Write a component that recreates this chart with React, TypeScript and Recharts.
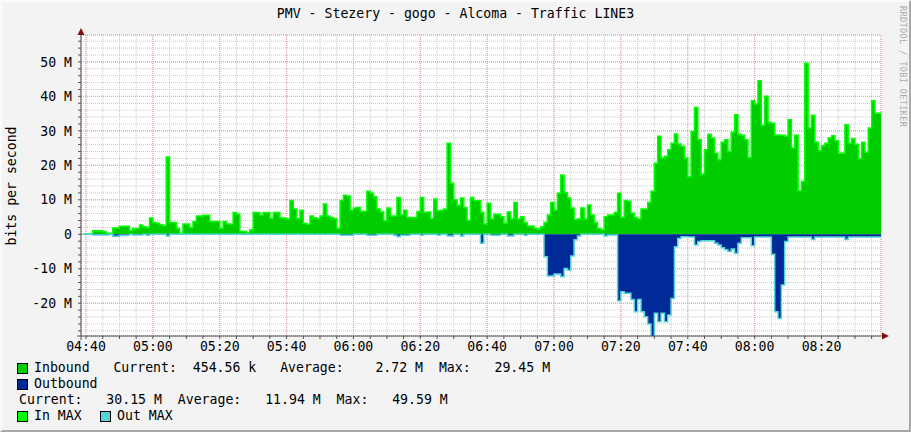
import React from 'react';
import { ComposedChart, Area, XAxis, YAxis, CartesianGrid } from 'recharts';

// minute offsets from 04:40, one sample per minute starting at 04:39
const START_MIN = -1;

// traffic in Mbit/s
const inbound = [
  0.1, 0.1, 0.1, 1.0, 1.0, 1.0, 0.7, 0.3, 0.3, 1.8,
  1.8, 2.3, 2.3, 2.3, 1.1, 1.7, 1.7, 2.7, 2.2, 2.0,
  4.7, 3.4, 3.2, 2.8, 2.5, 22.4, 3.4, 3.4, 1.7, 0.3,
  3.0, 3.0, 2.0, 3.7, 5.3, 5.3, 5.5, 5.5, 3.7, 3.7,
  3.7, 1.7, 3.7, 3.0, 3.0, 6.3, 5.8, 0.8, 0.8, 0.5,
  1.3, 6.3, 6.3, 5.6, 6.3, 6.3, 4.6, 6.3, 6.3, 4.7,
  4.7, 4.4, 9.8, 7.3, 4.6, 7.0, 3.2, 2.9, 5.3, 4.8,
  4.5, 5.3, 8.8, 5.3, 4.9, 4.6, 1.7, 9.8, 11.3, 11.1,
  7.0, 7.6, 7.8, 6.6, 6.7, 12.5, 11.9, 10.9, 7.3, 6.5,
  3.9, 7.6, 5.3, 5.3, 10.7, 5.7, 7.0, 4.9, 4.9, 4.9,
  6.6, 10.7, 6.3, 6.5, 4.6, 10.2, 6.8, 7.0, 7.3, 26.4,
  14.8, 10.0, 8.4, 10.5, 7.7, 4.0, 10.7, 9.7, 9.7, 6.3,
  3.0, 9.0, 4.4, 5.8, 5.8, 5.1, 3.2, 6.5, 4.4, 9.2,
  4.4, 5.1, 3.4, 2.4, 2.4, 1.7, 1.5, 2.2, 3.4, 5.6,
  9.2, 7.0, 11.9, 17.2, 12.1, 10.5, 7.6, 4.2, 4.4, 7.6,
  4.4, 8.5, 5.6, 3.4, 1.7, 1.3, 5.1, 5.6, 5.6, 6.3,
  11.9, 4.9, 9.8, 9.5, 6.1, 4.9, 4.4, 7.3, 7.3, 9.2,
  12.5, 20.6, 28.4, 22.1, 22.6, 24.5, 26.4, 29.1, 26.2, 25.5,
  22.1, 16.7, 29.8, 36.8, 27.4, 17.4, 24.5, 29.0, 27.9, 23.5,
  21.6, 26.7, 27.4, 24.0, 29.6, 34.7, 29.0, 28.7, 27.4, 22.3,
  38.7, 37.8, 44.5, 31.6, 40.0, 32.5, 32.2, 28.8, 28.8, 28.7,
  28.4, 33.2, 25.0, 28.7, 12.6, 15.3, 49.6, 30.8, 34.5, 26.7,
  24.2, 25.7, 26.4, 27.9, 28.6, 27.1, 23.5, 23.5, 31.8, 26.4,
  27.7, 26.1, 21.9, 26.7, 23.8, 30.8, 38.7, 35.1, 35.1, 35.1,
];

const outbound = [
  0, 0, 0, -0.2, -0.2, -0.2, -0.2, -0.2, 0, -0.6,
  -0.6, -0.3, -0.3, -0.3, 0, -0.2, -0.2, -0.2, 0, -0.3,
  0, 0, 0, 0, 0, -0.5, 0, 0, 0, 0,
  0, 0, 0, 0, 0, 0, 0, 0, 0, 0,
  0, 0, 0, 0, 0, 0, 0, 0, 0, 0,
  0, 0, 0, 0, 0, 0, 0, 0, 0, 0,
  0, 0, 0, 0, 0, 0, 0, 0, 0, 0,
  0, 0, 0, 0, 0, 0, 0, -0.3, -0.3, -0.3,
  -0.3, 0, 0, 0, 0, -0.3, -0.3, -0.3, 0, 0,
  0, 0, 0, -0.3, -0.7, -0.3, -0.3, -0.3, 0, 0,
  0, -0.3, 0, 0, 0, 0, -0.3, 0, 0, -0.5,
  -0.5, 0, 0, -0.5, 0, 0, 0, 0, 0, -2.6,
  0, 0, -0.3, -0.3, -0.3, 0, 0, -0.5, -0.5, 0,
  0, 0, -0.3, 0, 0, 0, 0, 0, -6.5, -12.1,
  -12.1, -11.5, -11.5, -12.3, -9.9, -10.4, -6.3, -1.6, -0.5, 0,
  0, 0, 0, 0, 0, 0, -0.5, -0.2, -0.2, -0.2,
  -19.3, -16.7, -17.1, -17.1, -18.9, -22.5, -18.9, -22.5, -23.9, -26.0,
  -29.7, -22.9, -25.4, -22.9, -25.4, -23.4, -18.6, -3.6, -1.2, -0.7,
  -0.7, -0.8, -0.8, -3.1, -2.1, -1.9, -1.9, -1.9, -1.9, -2.6,
  -3.1, -3.9, -4.5, -5.0, -4.3, -5.5, -2.6, -1.0, -1.0, -1.0,
  -3.3, -0.8, -0.8, -0.8, -0.8, -0.8, -5.8, -22.5, -24.4, -14.7,
  -2.1, -0.8, -0.8, -0.8, -0.8, -0.8, -0.8, -0.8, -1.5, -0.8,
  -0.8, -0.8, -0.8, -0.8, -0.8, -0.8, -0.8, -0.8, -1.5, -0.8,
  -0.8, -0.8, -0.8, -0.8, -0.8, -0.8, -0.8, -0.8, -0.8, -0.8,
];

const timeTicks = [0, 20, 40, 60, 80, 100, 120, 140, 160, 180, 200, 220];
const timeLabels = ['04:40', '05:00', '05:20', '05:40', '06:00', '06:20', '06:40', '07:00', '07:20', '07:40', '08:00', '08:20'];
const minorTimeTicks = Array.from({ length: 48 }, (_, i) => i * 5);

const valueTicks = [-20, -10, 0, 10, 20, 30, 40, 50];
const minorValueTicks = Array.from({ length: 43 }, (_, i) => -28 + i * 2);

const data = inbound.map((v, i) => ({ t: START_MIN + i, inb: v, out: outbound[i] }));

const FONT = '"DejaVu Sans Mono", monospace';

const fmtTime = (v: number) => {
  const i = timeTicks.indexOf(v);
  return i >= 0 ? timeLabels[i] : '';
};
const fmtValue = (v: number) => {
  if (!valueTicks.includes(v)) return '';
  return v === 0 ? '0' : `${v} M`;
};

const Box = ({ color, left, top }: { color: string; left: number; top: number }) => (
  <div style={{ position: 'absolute', left, top, width: 9, height: 9, background: color, border: '1px solid #000' }} />
);

const Txt = ({ left, top, children }: { left: number; top: number; children: React.ReactNode }) => (
  <div style={{ position: 'absolute', left, top, fontSize: 13.2, lineHeight: '16px', whiteSpace: 'pre', color: '#000' }}>{children}</div>
);

export default function App() {
  return (
    <div style={{ position: 'absolute', left: 0, top: 0, width: 911, height: 432, background: '#f3f3f3', fontFamily: FONT, overflow: 'hidden' }}>
      <div style={{ position: 'absolute', left: 0, top: 6, width: 911, textAlign: 'center', fontSize: 13.2, lineHeight: '16px' }}>
        PMV - Stezery - gogo - Alcoma - Traffic LINE3
      </div>

      <div style={{ position: 'absolute', left: 11, top: 186, transform: 'translate(-50%, -50%) rotate(-90deg)', whiteSpace: 'nowrap', fontSize: 13.2 }}>
        bits per second
      </div>

      <div style={{ position: 'absolute', left: 898, top: 6, writingMode: 'vertical-rl', fontSize: 8.5, color: '#aaa', letterSpacing: 0.4 }}>
        RRDTOOL / TOBI OETIKER
      </div>

      <div style={{ position: 'absolute', left: 0, top: 0 }}>
        <ComposedChart width={911} height={432} data={data} margin={{ top: 35, right: 30, bottom: 76, left: 0 }}>
          <CartesianGrid fill="#ffffff" stroke="#c8c8c8" strokeDasharray="1 1" />
          <CartesianGrid xAxisId="major" yAxisId="major" stroke="#e89a9a" strokeDasharray="1 1" />
          <XAxis
            dataKey="t"
            type="number"
            domain={[-1.5, 237.8]}
            allowDataOverflow
            ticks={minorTimeTicks}
            interval={0}
            tickFormatter={fmtTime}
            axisLine={false}
            tickSize={3}
            tickMargin={3}
            height={20}
            tickLine={{ stroke: '#555' }}
            tick={{ fill: '#000', fontSize: 13.2, fontFamily: FONT }}
          />
          <XAxis xAxisId="major" dataKey="t" type="number" domain={[-1.5, 237.8]} allowDataOverflow ticks={timeTicks} hide />
          <YAxis
            type="number"
            domain={[-29.5, 57.8]}
            allowDataOverflow
            ticks={minorValueTicks}
            interval={0}
            tickFormatter={fmtValue}
            width={81}
            axisLine={false}
            tickSize={3}
            tickMargin={6}
            tickLine={{ stroke: '#555' }}
            tick={{ fill: '#000', fontSize: 13.2, fontFamily: FONT }}
          />
          <YAxis yAxisId="major" type="number" domain={[-29.5, 57.8]} allowDataOverflow ticks={valueTicks} hide />
          <Area
            dataKey="inb"
            type="stepAfter"
            baseValue={0}
            fill="#00cc00"
            fillOpacity={1}
            stroke="#00ff00"
            strokeWidth={1.5}
            isAnimationActive={false}
            dot={false}
            activeDot={false}
          />
          <Area
            dataKey="out"
            type="stepAfter"
            baseValue={0}
            fill="#002a97"
            fillOpacity={1}
            stroke="#55d5d8"
            strokeWidth={1.5}
            isAnimationActive={false}
            dot={false}
            activeDot={false}
          />
        </ComposedChart>
      </div>

      <svg width={911} height={432} style={{ position: 'absolute', left: 0, top: 0, pointerEvents: 'none' }}>
        <line x1={81} y1={31} x2={81} y2={340} stroke="#555" strokeWidth={1} />
        <line x1={77} y1={336} x2={885} y2={336} stroke="#555" strokeWidth={1} />
        <polygon points="77.5,35 84.5,35 81,28" fill="#7f1010" />
        <polygon points="882,332.5 882,339.5 889,336" fill="#7f1010" />
      </svg>

      <Box color="#00cc00" left={17} top={363} />
      <Txt left={34} top={360}>{'Inbound   Current:  454.56 k   Average:    2.72 M  Max:   29.45 M'}</Txt>
      <Box color="#002a97" left={17} top={379} />
      <Txt left={34} top={376}>Outbound</Txt>
      <Txt left={19} top={392}>{'Current:   30.15 M  Average:   11.94 M  Max:   49.59 M'}</Txt>
      <Box color="#00ff00" left={17} top={411} />
      <Txt left={34} top={408}>In MAX</Txt>
      <Box color="#55d5d8" left={100} top={411} />
      <Txt left={117} top={408}>Out MAX</Txt>

      <div style={{ position: 'absolute', left: 0, top: 0, width: 911, height: 432, boxSizing: 'border-box', borderTop: '2px solid #fbfbfb', borderLeft: '2px solid #fbfbfb', borderRight: '2px solid #a8a8a8', borderBottom: '2px solid #a8a8a8', pointerEvents: 'none' }} />
    </div>
  );
}
